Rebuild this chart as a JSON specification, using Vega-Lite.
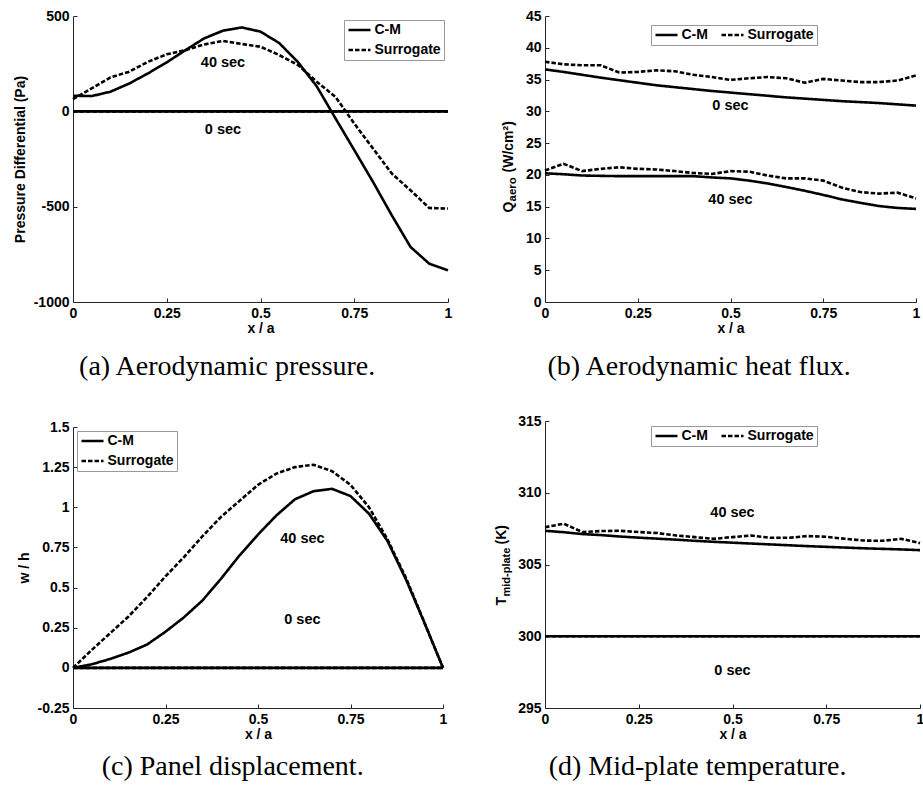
{
  "$schema": "https://vega.github.io/schema/vega-lite/v6.json",
  "background": "white",
  "padding": {"left": 13, "top": 9, "right": 0, "bottom": 0},
  "datasets": {
    "a": [
      {"x":0,"v":82,"model":"C-M","time":"40 sec"},{"x":0.05,"v":80,"model":"C-M","time":"40 sec"},{"x":0.1,"v":103,"model":"C-M","time":"40 sec"},{"x":0.15,"v":146,"model":"C-M","time":"40 sec"},{"x":0.2,"v":199,"model":"C-M","time":"40 sec"},{"x":0.25,"v":257,"model":"C-M","time":"40 sec"},{"x":0.3,"v":321,"model":"C-M","time":"40 sec"},{"x":0.35,"v":383,"model":"C-M","time":"40 sec"},{"x":0.4,"v":423,"model":"C-M","time":"40 sec"},{"x":0.45,"v":440,"model":"C-M","time":"40 sec"},{"x":0.5,"v":418,"model":"C-M","time":"40 sec"},{"x":0.55,"v":358,"model":"C-M","time":"40 sec"},{"x":0.6,"v":258,"model":"C-M","time":"40 sec"},{"x":0.65,"v":131,"model":"C-M","time":"40 sec"},{"x":0.7,"v":-37,"model":"C-M","time":"40 sec"},{"x":0.75,"v":-203,"model":"C-M","time":"40 sec"},{"x":0.8,"v":-370,"model":"C-M","time":"40 sec"},{"x":0.85,"v":-545,"model":"C-M","time":"40 sec"},{"x":0.9,"v":-711,"model":"C-M","time":"40 sec"},{"x":0.95,"v":-799,"model":"C-M","time":"40 sec"},{"x":1,"v":-834,"model":"C-M","time":"40 sec"},
      {"x":0,"v":64,"model":"Surrogate","time":"40 sec"},{"x":0.05,"v":120,"model":"Surrogate","time":"40 sec"},{"x":0.1,"v":178,"model":"Surrogate","time":"40 sec"},{"x":0.15,"v":208,"model":"Surrogate","time":"40 sec"},{"x":0.2,"v":260,"model":"Surrogate","time":"40 sec"},{"x":0.25,"v":299,"model":"Surrogate","time":"40 sec"},{"x":0.3,"v":321,"model":"Surrogate","time":"40 sec"},{"x":0.35,"v":351,"model":"Surrogate","time":"40 sec"},{"x":0.4,"v":369,"model":"Surrogate","time":"40 sec"},{"x":0.45,"v":353,"model":"Surrogate","time":"40 sec"},{"x":0.5,"v":339,"model":"Surrogate","time":"40 sec"},{"x":0.55,"v":295,"model":"Surrogate","time":"40 sec"},{"x":0.6,"v":243,"model":"Surrogate","time":"40 sec"},{"x":0.65,"v":155,"model":"Surrogate","time":"40 sec"},{"x":0.7,"v":76,"model":"Surrogate","time":"40 sec"},{"x":0.75,"v":-64,"model":"Surrogate","time":"40 sec"},{"x":0.8,"v":-195,"model":"Surrogate","time":"40 sec"},{"x":0.85,"v":-326,"model":"Surrogate","time":"40 sec"},{"x":0.9,"v":-414,"model":"Surrogate","time":"40 sec"},{"x":0.95,"v":-507,"model":"Surrogate","time":"40 sec"},{"x":1,"v":-510,"model":"Surrogate","time":"40 sec"},
      {"x":0,"v":0,"model":"C-M","time":"0 sec"},{"x":1,"v":0,"model":"C-M","time":"0 sec"},
      {"x":0,"v":0,"model":"Surrogate","time":"0 sec"},{"x":1,"v":0,"model":"Surrogate","time":"0 sec"}
    ],
    "a_lbl": [{"x":0.4,"v":251,"label":"40 sec"},{"x":0.4,"v":-98,"label":"0 sec"}],
    "b": [
      {"x":0,"v":36.6,"model":"C-M","time":"0 sec"},{"x":0.05,"v":36.2,"model":"C-M","time":"0 sec"},{"x":0.1,"v":35.75,"model":"C-M","time":"0 sec"},{"x":0.15,"v":35.3,"model":"C-M","time":"0 sec"},{"x":0.2,"v":34.9,"model":"C-M","time":"0 sec"},{"x":0.25,"v":34.5,"model":"C-M","time":"0 sec"},{"x":0.3,"v":34.1,"model":"C-M","time":"0 sec"},{"x":0.35,"v":33.8,"model":"C-M","time":"0 sec"},{"x":0.4,"v":33.5,"model":"C-M","time":"0 sec"},{"x":0.45,"v":33.2,"model":"C-M","time":"0 sec"},{"x":0.5,"v":32.95,"model":"C-M","time":"0 sec"},{"x":0.55,"v":32.7,"model":"C-M","time":"0 sec"},{"x":0.6,"v":32.45,"model":"C-M","time":"0 sec"},{"x":0.65,"v":32.2,"model":"C-M","time":"0 sec"},{"x":0.7,"v":32.0,"model":"C-M","time":"0 sec"},{"x":0.75,"v":31.8,"model":"C-M","time":"0 sec"},{"x":0.8,"v":31.6,"model":"C-M","time":"0 sec"},{"x":0.85,"v":31.45,"model":"C-M","time":"0 sec"},{"x":0.9,"v":31.3,"model":"C-M","time":"0 sec"},{"x":0.95,"v":31.1,"model":"C-M","time":"0 sec"},{"x":1,"v":30.9,"model":"C-M","time":"0 sec"},
      {"x":0,"v":37.8,"model":"Surrogate","time":"0 sec"},{"x":0.05,"v":37.4,"model":"Surrogate","time":"0 sec"},{"x":0.1,"v":37.25,"model":"Surrogate","time":"0 sec"},{"x":0.15,"v":37.25,"model":"Surrogate","time":"0 sec"},{"x":0.2,"v":36.1,"model":"Surrogate","time":"0 sec"},{"x":0.25,"v":36.2,"model":"Surrogate","time":"0 sec"},{"x":0.3,"v":36.45,"model":"Surrogate","time":"0 sec"},{"x":0.35,"v":36.3,"model":"Surrogate","time":"0 sec"},{"x":0.4,"v":35.75,"model":"Surrogate","time":"0 sec"},{"x":0.45,"v":35.4,"model":"Surrogate","time":"0 sec"},{"x":0.5,"v":34.95,"model":"Surrogate","time":"0 sec"},{"x":0.55,"v":35.2,"model":"Surrogate","time":"0 sec"},{"x":0.6,"v":35.4,"model":"Surrogate","time":"0 sec"},{"x":0.65,"v":35.2,"model":"Surrogate","time":"0 sec"},{"x":0.7,"v":34.5,"model":"Surrogate","time":"0 sec"},{"x":0.75,"v":35.1,"model":"Surrogate","time":"0 sec"},{"x":0.8,"v":34.85,"model":"Surrogate","time":"0 sec"},{"x":0.85,"v":34.6,"model":"Surrogate","time":"0 sec"},{"x":0.9,"v":34.6,"model":"Surrogate","time":"0 sec"},{"x":0.95,"v":34.85,"model":"Surrogate","time":"0 sec"},{"x":1,"v":35.65,"model":"Surrogate","time":"0 sec"},
      {"x":0,"v":20.25,"model":"C-M","time":"40 sec"},{"x":0.05,"v":20.1,"model":"C-M","time":"40 sec"},{"x":0.1,"v":19.9,"model":"C-M","time":"40 sec"},{"x":0.15,"v":19.85,"model":"C-M","time":"40 sec"},{"x":0.2,"v":19.8,"model":"C-M","time":"40 sec"},{"x":0.25,"v":19.8,"model":"C-M","time":"40 sec"},{"x":0.3,"v":19.8,"model":"C-M","time":"40 sec"},{"x":0.35,"v":19.8,"model":"C-M","time":"40 sec"},{"x":0.4,"v":19.8,"model":"C-M","time":"40 sec"},{"x":0.45,"v":19.6,"model":"C-M","time":"40 sec"},{"x":0.5,"v":19.45,"model":"C-M","time":"40 sec"},{"x":0.55,"v":19.1,"model":"C-M","time":"40 sec"},{"x":0.6,"v":18.65,"model":"C-M","time":"40 sec"},{"x":0.65,"v":18.1,"model":"C-M","time":"40 sec"},{"x":0.7,"v":17.5,"model":"C-M","time":"40 sec"},{"x":0.75,"v":16.85,"model":"C-M","time":"40 sec"},{"x":0.8,"v":16.15,"model":"C-M","time":"40 sec"},{"x":0.85,"v":15.6,"model":"C-M","time":"40 sec"},{"x":0.9,"v":15.1,"model":"C-M","time":"40 sec"},{"x":0.95,"v":14.8,"model":"C-M","time":"40 sec"},{"x":1,"v":14.65,"model":"C-M","time":"40 sec"},
      {"x":0,"v":20.7,"model":"Surrogate","time":"40 sec"},{"x":0.05,"v":21.75,"model":"Surrogate","time":"40 sec"},{"x":0.1,"v":20.6,"model":"Surrogate","time":"40 sec"},{"x":0.15,"v":20.95,"model":"Surrogate","time":"40 sec"},{"x":0.2,"v":21.2,"model":"Surrogate","time":"40 sec"},{"x":0.25,"v":20.95,"model":"Surrogate","time":"40 sec"},{"x":0.3,"v":20.85,"model":"Surrogate","time":"40 sec"},{"x":0.35,"v":20.6,"model":"Surrogate","time":"40 sec"},{"x":0.4,"v":20.3,"model":"Surrogate","time":"40 sec"},{"x":0.45,"v":20.15,"model":"Surrogate","time":"40 sec"},{"x":0.5,"v":20.6,"model":"Surrogate","time":"40 sec"},{"x":0.55,"v":20.5,"model":"Surrogate","time":"40 sec"},{"x":0.6,"v":19.9,"model":"Surrogate","time":"40 sec"},{"x":0.65,"v":19.45,"model":"Surrogate","time":"40 sec"},{"x":0.7,"v":19.45,"model":"Surrogate","time":"40 sec"},{"x":0.75,"v":19.1,"model":"Surrogate","time":"40 sec"},{"x":0.8,"v":18.0,"model":"Surrogate","time":"40 sec"},{"x":0.85,"v":17.3,"model":"Surrogate","time":"40 sec"},{"x":0.9,"v":17.05,"model":"Surrogate","time":"40 sec"},{"x":0.95,"v":17.2,"model":"Surrogate","time":"40 sec"},{"x":1,"v":16.3,"model":"Surrogate","time":"40 sec"}
    ],
    "b_lbl": [{"x":0.5,"v":30.8,"label":"0 sec"},{"x":0.5,"v":16.0,"label":"40 sec"}],
    "c": [
      {"x":0,"v":0,"model":"C-M","time":"40 sec"},{"x":0.05,"v":0.022,"model":"C-M","time":"40 sec"},{"x":0.1,"v":0.055,"model":"C-M","time":"40 sec"},{"x":0.15,"v":0.095,"model":"C-M","time":"40 sec"},{"x":0.2,"v":0.145,"model":"C-M","time":"40 sec"},{"x":0.25,"v":0.225,"model":"C-M","time":"40 sec"},{"x":0.3,"v":0.315,"model":"C-M","time":"40 sec"},{"x":0.35,"v":0.42,"model":"C-M","time":"40 sec"},{"x":0.4,"v":0.555,"model":"C-M","time":"40 sec"},{"x":0.45,"v":0.7,"model":"C-M","time":"40 sec"},{"x":0.5,"v":0.83,"model":"C-M","time":"40 sec"},{"x":0.55,"v":0.95,"model":"C-M","time":"40 sec"},{"x":0.6,"v":1.05,"model":"C-M","time":"40 sec"},{"x":0.65,"v":1.1,"model":"C-M","time":"40 sec"},{"x":0.7,"v":1.115,"model":"C-M","time":"40 sec"},{"x":0.75,"v":1.07,"model":"C-M","time":"40 sec"},{"x":0.8,"v":0.96,"model":"C-M","time":"40 sec"},{"x":0.85,"v":0.79,"model":"C-M","time":"40 sec"},{"x":0.9,"v":0.55,"model":"C-M","time":"40 sec"},{"x":0.95,"v":0.28,"model":"C-M","time":"40 sec"},{"x":1,"v":0,"model":"C-M","time":"40 sec"},
      {"x":0,"v":0,"model":"Surrogate","time":"40 sec"},{"x":0.05,"v":0.11,"model":"Surrogate","time":"40 sec"},{"x":0.1,"v":0.215,"model":"Surrogate","time":"40 sec"},{"x":0.15,"v":0.32,"model":"Surrogate","time":"40 sec"},{"x":0.2,"v":0.44,"model":"Surrogate","time":"40 sec"},{"x":0.25,"v":0.57,"model":"Surrogate","time":"40 sec"},{"x":0.3,"v":0.69,"model":"Surrogate","time":"40 sec"},{"x":0.35,"v":0.82,"model":"Surrogate","time":"40 sec"},{"x":0.4,"v":0.94,"model":"Surrogate","time":"40 sec"},{"x":0.45,"v":1.04,"model":"Surrogate","time":"40 sec"},{"x":0.5,"v":1.14,"model":"Surrogate","time":"40 sec"},{"x":0.55,"v":1.21,"model":"Surrogate","time":"40 sec"},{"x":0.6,"v":1.25,"model":"Surrogate","time":"40 sec"},{"x":0.65,"v":1.265,"model":"Surrogate","time":"40 sec"},{"x":0.7,"v":1.225,"model":"Surrogate","time":"40 sec"},{"x":0.75,"v":1.14,"model":"Surrogate","time":"40 sec"},{"x":0.8,"v":1.0,"model":"Surrogate","time":"40 sec"},{"x":0.85,"v":0.8,"model":"Surrogate","time":"40 sec"},{"x":0.9,"v":0.56,"model":"Surrogate","time":"40 sec"},{"x":0.95,"v":0.28,"model":"Surrogate","time":"40 sec"},{"x":1,"v":0,"model":"Surrogate","time":"40 sec"},
      {"x":0,"v":0,"model":"C-M","time":"0 sec"},{"x":1,"v":0,"model":"C-M","time":"0 sec"},
      {"x":0,"v":0,"model":"Surrogate","time":"0 sec"},{"x":1,"v":0,"model":"Surrogate","time":"0 sec"}
    ],
    "c_lbl": [{"x":0.62,"v":0.8,"label":"40 sec"},{"x":0.62,"v":0.3,"label":"0 sec"}],
    "d": [
      {"x":0,"v":300,"model":"C-M","time":"0 sec"},{"x":1,"v":300,"model":"C-M","time":"0 sec"},
      {"x":0,"v":300,"model":"Surrogate","time":"0 sec"},{"x":1,"v":300,"model":"Surrogate","time":"0 sec"},
      {"x":0,"v":307.35,"model":"C-M","time":"40 sec"},{"x":0.05,"v":307.25,"model":"C-M","time":"40 sec"},{"x":0.1,"v":307.12,"model":"C-M","time":"40 sec"},{"x":0.15,"v":307.05,"model":"C-M","time":"40 sec"},{"x":0.2,"v":306.95,"model":"C-M","time":"40 sec"},{"x":0.25,"v":306.87,"model":"C-M","time":"40 sec"},{"x":0.3,"v":306.8,"model":"C-M","time":"40 sec"},{"x":0.35,"v":306.73,"model":"C-M","time":"40 sec"},{"x":0.4,"v":306.65,"model":"C-M","time":"40 sec"},{"x":0.45,"v":306.58,"model":"C-M","time":"40 sec"},{"x":0.5,"v":306.52,"model":"C-M","time":"40 sec"},{"x":0.55,"v":306.46,"model":"C-M","time":"40 sec"},{"x":0.6,"v":306.4,"model":"C-M","time":"40 sec"},{"x":0.65,"v":306.34,"model":"C-M","time":"40 sec"},{"x":0.7,"v":306.28,"model":"C-M","time":"40 sec"},{"x":0.75,"v":306.23,"model":"C-M","time":"40 sec"},{"x":0.8,"v":306.18,"model":"C-M","time":"40 sec"},{"x":0.85,"v":306.13,"model":"C-M","time":"40 sec"},{"x":0.9,"v":306.09,"model":"C-M","time":"40 sec"},{"x":0.95,"v":306.05,"model":"C-M","time":"40 sec"},{"x":1,"v":306.0,"model":"C-M","time":"40 sec"},
      {"x":0,"v":307.6,"model":"Surrogate","time":"40 sec"},{"x":0.05,"v":307.84,"model":"Surrogate","time":"40 sec"},{"x":0.1,"v":307.26,"model":"Surrogate","time":"40 sec"},{"x":0.15,"v":307.33,"model":"Surrogate","time":"40 sec"},{"x":0.2,"v":307.35,"model":"Surrogate","time":"40 sec"},{"x":0.25,"v":307.26,"model":"Surrogate","time":"40 sec"},{"x":0.3,"v":307.19,"model":"Surrogate","time":"40 sec"},{"x":0.35,"v":307.02,"model":"Surrogate","time":"40 sec"},{"x":0.4,"v":306.91,"model":"Surrogate","time":"40 sec"},{"x":0.45,"v":306.79,"model":"Surrogate","time":"40 sec"},{"x":0.5,"v":306.91,"model":"Surrogate","time":"40 sec"},{"x":0.55,"v":307.02,"model":"Surrogate","time":"40 sec"},{"x":0.6,"v":306.86,"model":"Surrogate","time":"40 sec"},{"x":0.65,"v":306.86,"model":"Surrogate","time":"40 sec"},{"x":0.7,"v":306.98,"model":"Surrogate","time":"40 sec"},{"x":0.75,"v":306.93,"model":"Surrogate","time":"40 sec"},{"x":0.8,"v":306.79,"model":"Surrogate","time":"40 sec"},{"x":0.85,"v":306.67,"model":"Surrogate","time":"40 sec"},{"x":0.9,"v":306.65,"model":"Surrogate","time":"40 sec"},{"x":0.95,"v":306.79,"model":"Surrogate","time":"40 sec"},{"x":1,"v":306.49,"model":"Surrogate","time":"40 sec"}
    ],
    "d_lbl": [{"x":0.5,"v":308.6,"label":"40 sec"},{"x":0.5,"v":297.56,"label":"0 sec"}]
  },
  "resolve": {"scale": {"strokeDash": "independent"}, "legend": {"strokeDash": "independent"}},
  "hconcat": [
    {
      "resolve": {"scale": {"strokeDash": "independent"}, "legend": {"strokeDash": "independent"}},
      "vconcat": [
        {
          "width": 375, "height": 286,
          "title": {"text": "(a) Aerodynamic pressure.", "dx": -6, "offset": 18},
          "encoding": {
            "x": {"field": "x", "type": "quantitative", "scale": {"domain": [0, 1], "nice": false}, "axis": {"values": [0, 0.25, 0.5, 0.75, 1], "labelExpr": "'' + datum.value", "title": "x / a"}},
            "y": {"field": "v", "type": "quantitative", "scale": {"domain": [-1000, 500], "nice": false, "zero": false}, "axis": {"values": [-1000, -500, 0, 500], "labelExpr": "'' + datum.value", "title": "Pressure Differential (Pa)"}}
          },
          "layer": [
            {
              "data": {"name": "a"},
              "mark": {"type": "line"},
              "encoding": {
                "strokeDash": {"field": "model", "type": "nominal", "scale": {"domain": ["C-M", "Surrogate"], "range": [[1, 0], [4.5, 2]]}, "legend": {"title": null, "orient": "top-right", "offset": 4}},
                "detail": {"field": "time"}
              }
            },
            {
              "data": {"name": "a_lbl"},
              "mark": {"type": "text"},
              "encoding": {"text": {"field": "label"}}
            }
          ]
        },
        {
          "width": 370, "height": 281,
          "title": {"text": "(c) Panel displacement.", "offset": 12},
          "encoding": {
            "x": {"field": "x", "type": "quantitative", "scale": {"domain": [0, 1], "nice": false}, "axis": {"values": [0, 0.25, 0.5, 0.75, 1], "labelExpr": "'' + datum.value", "title": "x / a"}},
            "y": {"field": "v", "type": "quantitative", "scale": {"domain": [-0.25, 1.5], "nice": false, "zero": false}, "axis": {"values": [-0.25, 0, 0.25, 0.5, 0.75, 1, 1.25, 1.5], "labelExpr": "'' + datum.value", "title": "w / h"}}
          },
          "layer": [
            {
              "data": {"name": "c"},
              "mark": {"type": "line"},
              "encoding": {
                "strokeDash": {"field": "model", "type": "nominal", "scale": {"domain": ["C-M", "Surrogate"], "range": [[1, 0], [4.5, 2]]}, "legend": {"title": null, "orient": "top-left", "offset": 4}},
                "detail": {"field": "time"}
              }
            },
            {
              "data": {"name": "c_lbl"},
              "mark": {"type": "text"},
              "encoding": {"text": {"field": "label"}}
            }
          ]
        }
      ],
      "spacing": 39
    },
    {
      "resolve": {"scale": {"strokeDash": "independent"}, "legend": {"strokeDash": "independent"}},
      "vconcat": [
        {
          "width": 371, "height": 286,
          "title": {"text": "(b) Aerodynamic heat flux.", "dx": -12, "offset": 18},
          "resolve": {"axis": {"y": "independent"}},
          "encoding": {
            "x": {"field": "x", "type": "quantitative", "scale": {"domain": [0, 1], "nice": false}, "axis": {"values": [0, 0.25, 0.5, 0.75, 1], "labelExpr": "'' + datum.value", "title": "x / a"}}
          },
          "layer": [
            {
              "data": {"name": "b"},
              "transform": [{"filter": "datum.time == '0 sec'"}],
              "mark": {"type": "line"},
              "encoding": {
                "y": {"field": "v", "type": "quantitative", "scale": {"domain": [0, 45], "nice": false}, "axis": {"orient": "left", "values": [0, 5, 10, 15, 20, 25, 30, 35, 40, 45], "labelExpr": "'' + datum.value", "title": "Q", "titleX": -33, "titleY": 196, "titleAlign": "left", "titleBaseline": "alphabetic", "titleAngle": -90}},
                "strokeDash": {"field": "model", "type": "nominal", "scale": {"domain": ["C-M", "Surrogate"], "range": [[1, 0], [4.5, 2]]}, "legend": {"title": null, "orient": "none", "direction": "horizontal", "legendX": 106, "legendY": 9}},
                "detail": {"field": "time"}
              }
            },
            {
              "data": {"name": "b"},
              "transform": [{"filter": "datum.time == '40 sec'"}],
              "mark": {"type": "line"},
              "encoding": {
                "y": {"field": "v", "type": "quantitative", "axis": {"orient": "left", "domain": false, "ticks": false, "labels": false, "title": "aero", "titleFontSize": 11.5, "titleX": -30, "titleY": 185, "titleAlign": "left", "titleBaseline": "alphabetic", "titleAngle": -90}},
                "strokeDash": {"field": "model", "type": "nominal", "scale": {"domain": ["C-M", "Surrogate"], "range": [[1, 0], [4.5, 2]]}, "legend": {"title": null, "orient": "none", "direction": "horizontal", "legendX": 106, "legendY": 9}},
                "detail": {"field": "time"}
              }
            },
            {
              "data": {"name": "b_lbl"},
              "mark": {"type": "text"},
              "encoding": {
                "y": {"field": "v", "type": "quantitative", "axis": {"orient": "left", "domain": false, "ticks": false, "labels": false, "title": "(W/cm²)", "titleX": -33, "titleY": 156, "titleAlign": "left", "titleBaseline": "alphabetic", "titleAngle": -90}},
                "text": {"field": "label"}
              }
            }
          ]
        },
        {
          "width": 375, "height": 287,
          "title": {"text": "(d) Mid-plate temperature.", "dx": -12, "offset": 12},
          "resolve": {"axis": {"y": "independent"}},
          "encoding": {
            "x": {"field": "x", "type": "quantitative", "scale": {"domain": [0, 1], "nice": false}, "axis": {"values": [0, 0.25, 0.5, 0.75, 1], "labelExpr": "'' + datum.value", "title": "x / a"}}
          },
          "layer": [
            {
              "data": {"name": "d"},
              "transform": [{"filter": "datum.time == '0 sec'"}],
              "mark": {"type": "line"},
              "encoding": {
                "y": {"field": "v", "type": "quantitative", "scale": {"domain": [295, 315], "nice": false, "zero": false}, "axis": {"orient": "left", "values": [295, 300, 305, 310, 315], "labelExpr": "'' + datum.value", "title": "T", "titleX": -40, "titleY": 184, "titleAlign": "left", "titleBaseline": "alphabetic", "titleAngle": -90}},
                "strokeDash": {"field": "model", "type": "nominal", "scale": {"domain": ["C-M", "Surrogate"], "range": [[1, 0], [4.5, 2]]}, "legend": {"title": null, "orient": "none", "direction": "horizontal", "legendX": 106, "legendY": 5}},
                "detail": {"field": "time"}
              }
            },
            {
              "data": {"name": "d"},
              "transform": [{"filter": "datum.time == '40 sec'"}],
              "mark": {"type": "line"},
              "encoding": {
                "y": {"field": "v", "type": "quantitative", "axis": {"orient": "left", "domain": false, "ticks": false, "labels": false, "title": "mid-plate", "titleFontSize": 11, "titleX": -36, "titleY": 175, "titleAlign": "left", "titleBaseline": "alphabetic", "titleAngle": -90}},
                "strokeDash": {"field": "model", "type": "nominal", "scale": {"domain": ["C-M", "Surrogate"], "range": [[1, 0], [4.5, 2]]}, "legend": {"title": null, "orient": "none", "direction": "horizontal", "legendX": 106, "legendY": 5}},
                "detail": {"field": "time"}
              }
            },
            {
              "data": {"name": "d_lbl"},
              "mark": {"type": "text"},
              "encoding": {
                "y": {"field": "v", "type": "quantitative", "axis": {"orient": "left", "domain": false, "ticks": false, "labels": false, "title": "(K)", "titleX": -40, "titleY": 123, "titleAlign": "left", "titleBaseline": "alphabetic", "titleAngle": -90}},
                "text": {"field": "label"}
              }
            }
          ]
        }
      ],
      "spacing": 33
    }
  ],
  "spacing": 40,
  "config": {
    "view": {"stroke": null},
    "font": "Liberation Sans",
    "axis": {"grid": false, "domainColor": "#262626", "domainWidth": 1, "tickColor": "#262626", "tickSize": -4, "tickWidth": 1, "labelFont": "Liberation Sans", "labelFontWeight": "bold", "labelFontSize": 14, "labelColor": "#000", "titleFont": "Liberation Sans", "titleFontWeight": "bold", "titleFontSize": 14, "titleColor": "#000", "labelFlush": false, "labelOverlap": false, "labelBound": false},
    "axisX": {"labelPadding": 8, "titlePadding": 1},
    "axisY": {"labelPadding": 8, "titlePadding": 6},
    "legend": {"labelFont": "Liberation Sans", "labelFontWeight": "bold", "labelFontSize": 14, "labelColor": "#000", "symbolType": "M-2,0H2", "symbolSize": 121, "symbolOffset": 5.5, "symbolStrokeWidth": 2.6, "symbolStrokeColor": "#000", "strokeColor": "#999", "fillColor": "white", "padding": 3, "rowPadding": 6, "labelOffset": 8, "columnPadding": 8},
    "title": {"font": "Liberation Serif", "fontSize": 28, "fontWeight": "normal", "color": "#000", "orient": "bottom", "anchor": "middle", "offset": 13, "frame": "bounds"},
    "line": {"color": "#000", "strokeWidth": 2.6},
    "text": {"font": "Liberation Sans", "fontWeight": "bold", "fontSize": 14.5, "color": "#000"}
  }
}
